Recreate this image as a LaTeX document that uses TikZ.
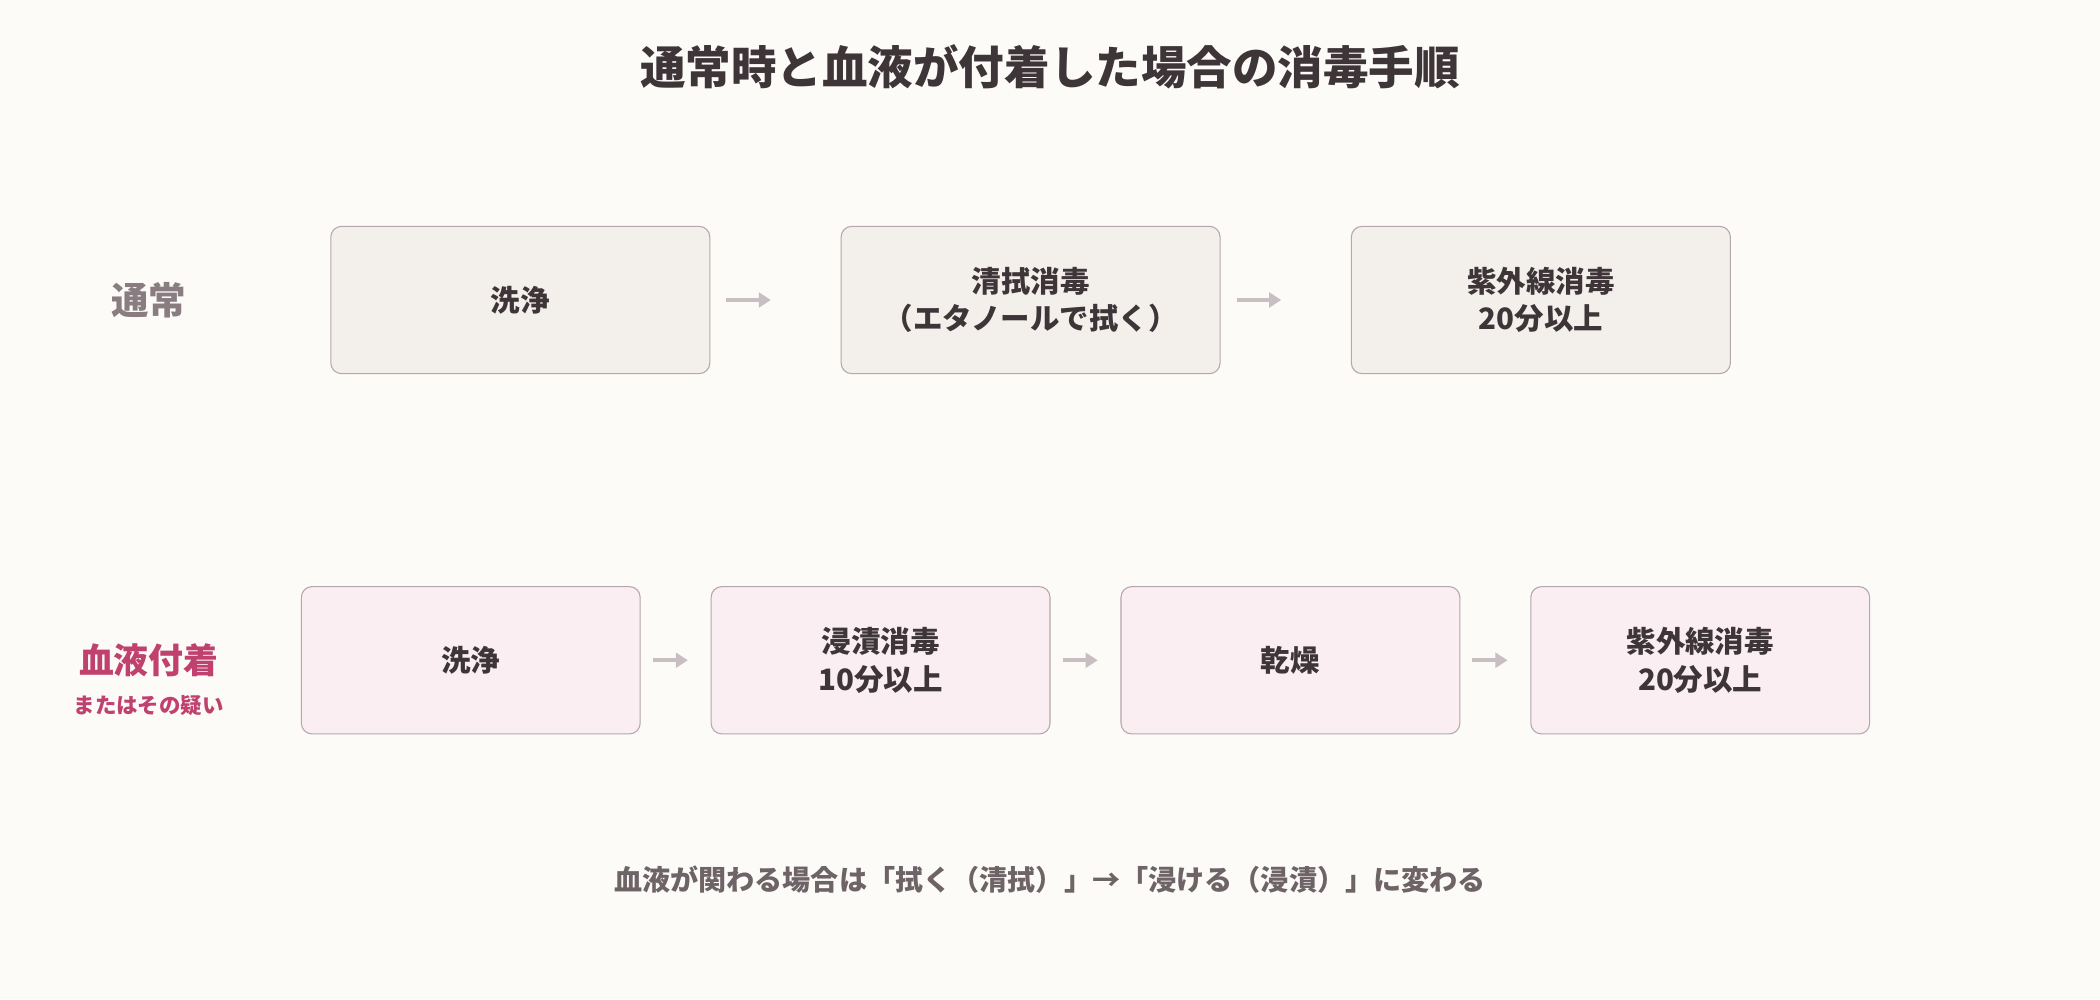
\documentclass[tikz,border=0pt]{standalone}
\usepackage{fontspec}
\setmainfont{Noto Sans CJK JP}
\usetikzlibrary{arrows.meta}
\definecolor{bg}{HTML}{FCFBF8}
\definecolor{ttl}{HTML}{3D3538}
\definecolor{lbl}{HTML}{8A7D82}
\definecolor{pk}{HTML}{C0406E}
\definecolor{note}{HTML}{6E6468}
\definecolor{fa}{HTML}{F3F0EC}
\definecolor{fb}{HTML}{FAEEF2}
\definecolor{bd}{HTML}{B5A7AC}
\definecolor{ar}{HTML}{C9BFC2}
\begin{document}
\begin{tikzpicture}[x=1pt,y=-1pt,
 box/.style={draw=bd,line width=0.8pt,rounded corners=8pt,minimum height=110pt,align=center,font=\fontsize{22}{28}\selectfont\bfseries,text=ttl,inner sep=0pt},
 boxa/.style={box,fill=fa,minimum width=283pt},
 boxb/.style={box,fill=fb,minimum width=253pt},
 arr/.style={draw=ar,line width=3pt,-{Triangle[length=9pt,width=11pt]}}]
\fill[bg] (0,0) rectangle (1568,746);
\useasboundingbox (0,0) rectangle (1568,746);
\node[text=ttl,font=\fontsize{34}{40}\selectfont\bfseries] (title) at (784,50) {通常時と血液が付着した場合の消毒手順};
\node[text=lbl,font=\fontsize{28}{32}\selectfont\bfseries] (l1) at (111,224) {通常};
\node[text=pk,font=\fontsize{26}{30}\selectfont\bfseries] (l2) at (111,493) {血液付着};
\node[text=pk,font=\fontsize{16}{20}\selectfont\bfseries] (l3) at (111,527) {またはその疑い};
\node[boxa] (a1) at (388.5,224) {洗浄};
\node[boxa] (a2) at (769.5,224) {清拭消毒\\（エタノールで拭く）};
\node[boxa] (a3) at (1150.5,224) {紫外線消毒\\20分以上};
\node[boxb] (b1) at (351.5,493) {洗浄};
\node[boxb] (b2) at (657.5,493) {浸漬消毒\\10分以上};
\node[boxb] (b3) at (963.5,493) {乾燥};
\node[boxb] (b4) at (1269.5,493) {紫外線消毒\\20分以上};
\draw[arr,shorten <=12pt,shorten >=52pt] (a1) -- (a2);
\draw[arr,shorten <=12pt,shorten >=52pt] (a2) -- (a3);
\draw[arr,shorten <=9pt,shorten >=17pt] (b1) -- (b2);
\draw[arr,shorten <=9pt,shorten >=17pt] (b2) -- (b3);
\draw[arr,shorten <=9pt,shorten >=17pt] (b3) -- (b4);
\node[text=note,font=\fontsize{21}{26}\selectfont\bfseries] (n) at (784,657) {血液が関わる場合は「拭く（清拭）」→「浸ける（浸漬）」に変わる};
\end{tikzpicture}
\end{document}
